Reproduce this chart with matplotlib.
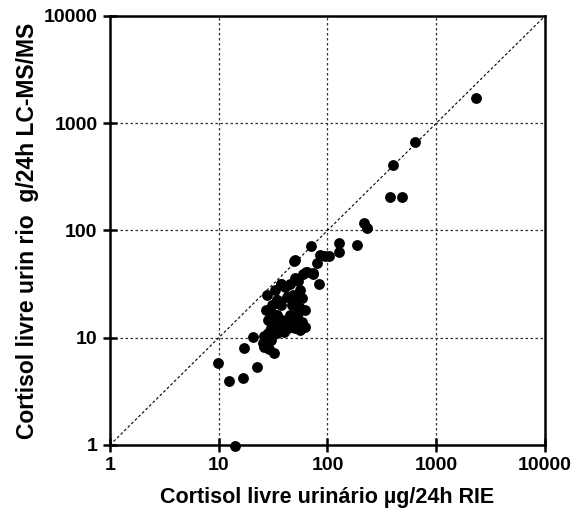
import numpy as np
import matplotlib
matplotlib.use("Agg")
import matplotlib.pyplot as plt

plt.rcParams['font.family'] = ['Liberation Sans', 'DejaVu Sans']

# RIE (x) vs LC-MS/MS (y), ug/24h
rie = [2320, 638, 400, 376, 484, 217, 231, 187, 128, 127,
       70, 85, 95, 103, 50, 80, 63, 73, 83, 50, 53, 37, 28, 34,
       49, 60, 65, 73,
       33, 37, 41, 45, 56, 48, 42, 34, 52, 58, 31, 37, 47, 56,
       30, 34, 45, 53, 28.5, 33, 38, 45, 51, 30, 37, 43, 50,
       28.5, 34, 40, 56, 62, 58, 27, 62,
       20.7, 26, 30, 28.5, 25.5, 26, 29, 32, 17, 9.8, 12.4, 16.7, 22.5, 14.1]
lcms = [1720, 668, 408, 205, 205, 117, 105, 73, 76, 63,
        72, 59, 58, 58, 53, 50, 41, 40, 32, 36, 34, 32, 25, 22.5,
        52, 39, 41, 39,
        28, 32, 30, 32, 28, 25, 24, 22.5, 22.5, 23.5, 20, 20, 20, 19,
        17.5, 16.3, 16.3, 17, 14.6, 14, 14.6, 14, 14, 12.3, 12.7, 12.3, 12.3,
        11.1, 11.1, 11.3, 11.8, 12.7, 14, 18, 18,
        10.2, 10.3, 9.6, 9.3, 9.0, 8.2, 7.8, 7.2, 8.0, 5.8, 3.95, 4.2, 5.3, 0.98]

decades = [1, 10, 100, 1000, 10000]
tick_labels = ['1', '10', '100', '1000', '10000']

fig = plt.figure(figsize=(5.72, 5.12), dpi=100)
ax = fig.add_axes([0.1923, 0.1309, 0.7605, 0.8379])
ax.set_xscale('log')
ax.set_yscale('log')
ax.set_xlim(1, 10000)
ax.set_ylim(1, 10000)

for d in decades[1:-1]:
    ax.axhline(d, color='#333333', lw=0.9, ls=(0, (2, 2)), zorder=1)
    ax.axvline(d, color='#333333', lw=0.9, ls=(0, (2, 2)), zorder=1)
ax.plot(decades, decades, color='black', lw=0.8, ls=(0, (2.5, 2)), zorder=1)

ax.plot(rie, lcms, 'o', color='black', ms=7.8, mew=0, clip_on=False, zorder=3)

ax.set_xticks(decades)
ax.set_xticklabels(tick_labels)
ax.set_yticks(decades)
ax.set_yticklabels(tick_labels)
ax.minorticks_off()
ax.tick_params(direction='inout', length=10, width=1.8, labelsize=14, pad=4)
for lab in ax.get_xticklabels() + ax.get_yticklabels():
    lab.set_fontweight('bold')
for s in ax.spines.values():
    s.set_linewidth(1.8)

ax.set_xlabel('Cortisol livre urinário µg/24h RIE', fontsize=15.5, fontweight='bold', labelpad=9)
ax.set_ylabel('Cortisol livre urin rio  g/24h LC-MS/MS', fontsize=16.5, fontweight='bold', labelpad=3)

fig.savefig('out.png', dpi=100)
